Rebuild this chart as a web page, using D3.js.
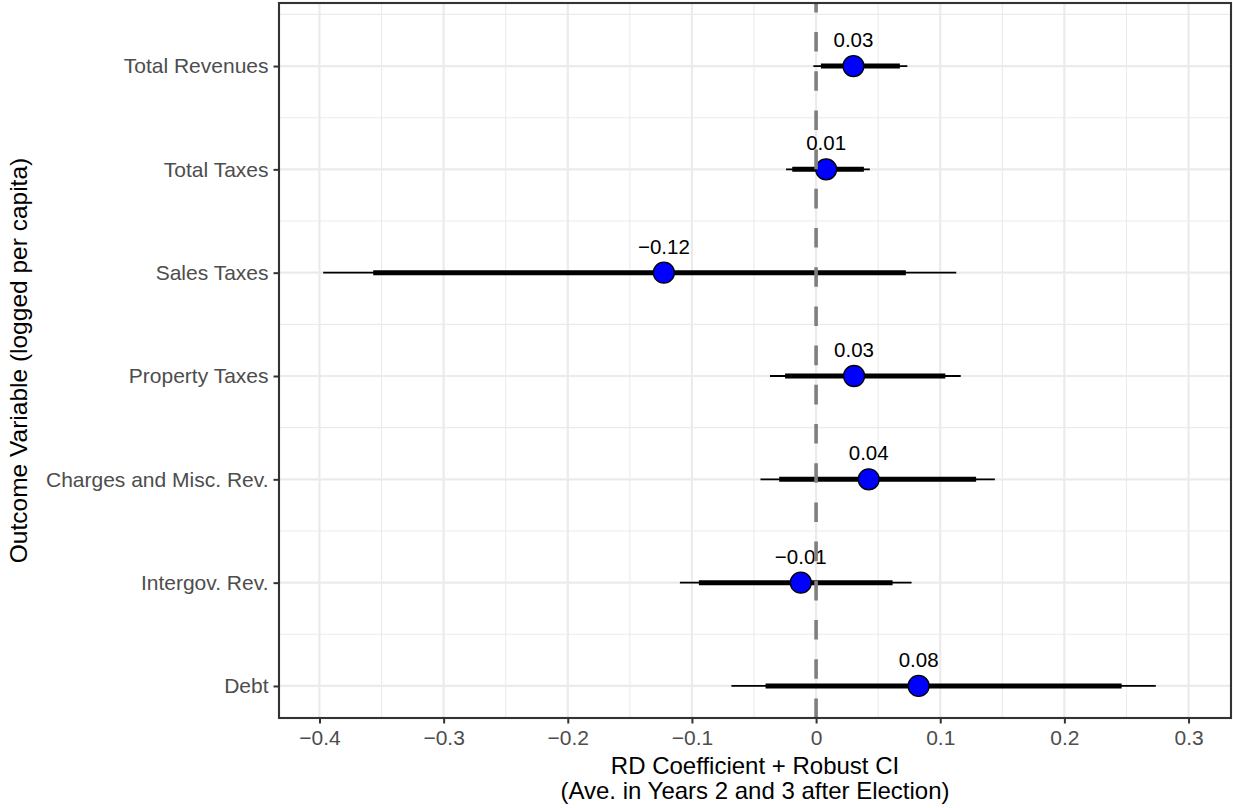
<!DOCTYPE html>
<html>
<head>
<meta charset="utf-8">
<script src="https://cdn.jsdelivr.net/npm/d3@7"></script>
<style>
  body { margin: 0; background: #fff; }
  svg { display: block; font-family: "Liberation Sans", Arial, Helvetica, sans-serif; }
</style>
</head>
<body>
<svg id="chart" width="1233" height="808"></svg>
<script>
// outcome rows, top to bottom
const outcomes = ['Total Revenues', 'Total Taxes', 'Sales Taxes', 'Property Taxes',
  'Charges and Misc. Rev.', 'Intergov. Rev.', 'Debt'];
const estimates = [0.0301, 0.0081, -0.1226, 0.0306, 0.0424, -0.0123, 0.0826];
// wide (thin) interval
const outerLow = [-0.0022, -0.0242, -0.3970, -0.0371, -0.0448, -0.1097, -0.0682];
const outerHigh = [0.0735, 0.0433, 0.1129, 0.1165, 0.1440, 0.0769, 0.2736];
// narrow (thick) interval
const innerLow = [0.0039, -0.0192, -0.3567, -0.0250, -0.0297, -0.0944, -0.0407];
const innerHigh = [0.0675, 0.0385, 0.0723, 0.1041, 0.1289, 0.0616, 0.2461];

const xTicks = [-0.4, -0.3, -0.2, -0.1, 0, 0.1, 0.2, 0.3];
const xTickLabels = ['\u22120.4', '\u22120.3', '\u22120.2', '\u22120.1', '0', '0.1', '0.2', '0.3'];
const xMinorTicks = [-0.35, -0.25, -0.15, -0.05, 0.05, 0.15, 0.25];

const data = outcomes.map((name, i) => ({
  name: name,
  row: i + 1,
  est: estimates[i],
  lo: outerLow[i], hi: outerHigh[i],
  lo2: innerLow[i], hi2: innerHigh[i]
}));

const panel = { left: 279, right: 1231, top: 3, bottom: 718 };
const svg = d3.select('#chart');

const x = d3.scaleLinear()
  .domain([-0.4326, 0.3342])
  .range([panel.left, panel.right]);
const y = d3.scaleLinear()
  .domain([0.39, 7.31])
  .range([panel.top, panel.bottom]);

const rows = d3.range(1, outcomes.length + 1);
const rowMinor = d3.range(0.5, outcomes.length + 0.5, 1);

svg.append('rect')
  .attr('width', 1233).attr('height', 808).attr('fill', '#fff');

// grid
const grid = svg.append('g');
grid.selectAll('.minor-x').data(xMinorTicks).enter().append('line')
  .attr('x1', d => x(d)).attr('x2', d => x(d))
  .attr('y1', panel.top).attr('y2', panel.bottom)
  .attr('stroke', '#ebebeb').attr('stroke-width', 1.1);
grid.selectAll('.minor-y').data(rowMinor).enter().append('line')
  .attr('x1', panel.left).attr('x2', panel.right)
  .attr('y1', d => y(d)).attr('y2', d => y(d))
  .attr('stroke', '#ebebeb').attr('stroke-width', 1.1);
grid.selectAll('.major-x').data(xTicks).enter().append('line')
  .attr('x1', d => x(d)).attr('x2', d => x(d))
  .attr('y1', panel.top).attr('y2', panel.bottom)
  .attr('stroke', '#ebebeb').attr('stroke-width', 2.2);
grid.selectAll('.major-y').data(rows).enter().append('line')
  .attr('x1', panel.left).attr('x2', panel.right)
  .attr('y1', d => y(d)).attr('y2', d => y(d))
  .attr('stroke', '#ebebeb').attr('stroke-width', 2.2);

// intervals
const marks = svg.append('g');
marks.selectAll('.outer').data(data).enter().append('line')
  .attr('x1', d => x(d.lo)).attr('x2', d => x(d.hi))
  .attr('y1', d => y(d.row)).attr('y2', d => y(d.row))
  .attr('stroke', '#000').attr('stroke-width', 1.8);
marks.selectAll('.inner').data(data).enter().append('line')
  .attr('x1', d => x(d.lo2)).attr('x2', d => x(d.hi2))
  .attr('y1', d => y(d.row)).attr('y2', d => y(d.row))
  .attr('stroke', '#000').attr('stroke-width', 5);

// zero reference line, drawn upward from the bottom
svg.append('line')
  .attr('x1', x(0)).attr('x2', x(0))
  .attr('y1', panel.bottom).attr('y2', panel.top)
  .attr('stroke', '#7f7f7f').attr('stroke-width', 3.6)
  .attr('stroke-dasharray', '19.6 19.6');

marks.selectAll('circle').data(data).enter().append('circle')
  .attr('cx', d => x(d.est)).attr('cy', d => y(d.row))
  .attr('r', 10.5)
  .attr('fill', '#0000ff').attr('stroke', '#000').attr('stroke-width', 1.3);

const fmt = d3.format('.2f');
marks.selectAll('.est-label').data(data).enter().append('text')
  .attr('x', d => x(d.est)).attr('y', d => y(d.row) - 19)
  .attr('text-anchor', 'middle')
  .attr('font-size', 20.5).attr('fill', '#000')
  .text(d => fmt(d.est));

// panel border
svg.append('rect')
  .attr('x', panel.left).attr('y', panel.top)
  .attr('width', panel.right - panel.left).attr('height', panel.bottom - panel.top)
  .attr('fill', 'none').attr('stroke', '#333333').attr('stroke-width', 2.1);

// x axis
const xAxis = svg.append('g')
  .attr('transform', 'translate(0,' + panel.bottom + ')')
  .call(d3.axisBottom(x)
    .tickValues(xTicks)
    .tickSize(5.5)
    .tickPadding(6.6)
    .tickFormat((d, i) => xTickLabels[i]));
xAxis.select('.domain').remove();
xAxis.selectAll('.tick line').attr('stroke', '#333333').attr('stroke-width', 2);
xAxis.selectAll('.tick text')
  .attr('fill', '#4d4d4d').attr('font-size', 21)
  .attr('font-family', '"Liberation Sans", Arial, sans-serif');

// y axis
const yAxis = svg.append('g')
  .attr('transform', 'translate(' + panel.left + ',0)')
  .call(d3.axisLeft(y)
    .tickValues(rows)
    .tickSize(5.5)
    .tickPadding(5)
    .tickFormat(d => outcomes[d - 1]));
yAxis.select('.domain').remove();
yAxis.selectAll('.tick line').attr('stroke', '#333333').attr('stroke-width', 2);
yAxis.selectAll('.tick text')
  .attr('fill', '#4d4d4d').attr('font-size', 21)
  .attr('font-family', '"Liberation Sans", Arial, sans-serif');

// axis titles
const cx = (panel.left + panel.right) / 2;
svg.append('text')
  .attr('x', cx).attr('y', 774)
  .attr('text-anchor', 'middle').attr('font-size', 24).attr('fill', '#000')
  .text('RD Coefficient + Robust CI');
svg.append('text')
  .attr('x', cx).attr('y', 799)
  .attr('text-anchor', 'middle').attr('font-size', 24).attr('fill', '#000')
  .text('(Ave. in Years 2 and 3 after Election)');

svg.append('text')
  .attr('transform', 'translate(27,' + ((panel.top + panel.bottom) / 2) + ') rotate(-90)')
  .attr('text-anchor', 'middle').attr('font-size', 24.5).attr('fill', '#000')
  .text('Outcome Variable (logged per capita)');
</script>
</body>
</html>
